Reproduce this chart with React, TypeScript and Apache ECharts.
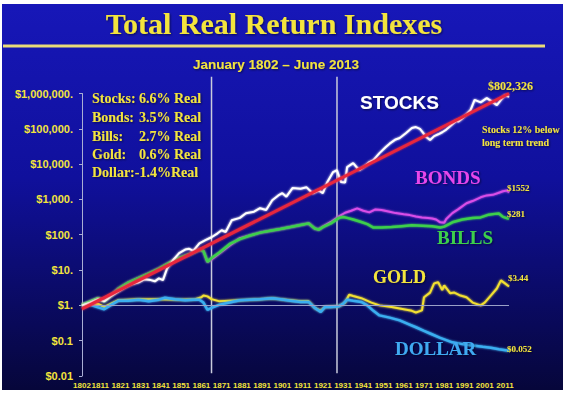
import React, { useEffect, useRef } from "react";
import * as echarts from "echarts";

// ---------- data ----------
const X_LABELS = [1802, 1811, 1821, 1831, 1841, 1851, 1861, 1871, 1881, 1891, 1901, 1911, 1921, 1931, 1941, 1951, 1961, 1971, 1981, 1991, 2001, 2011];
const Y_LABELS = ["$0.01", "$0.1", "$1.", "$10.", "$100.", "$1,000.", "$10,000.", "$100,000.", "$1,000,000."];

const STOCK_YEARS = [1802, 1806, 1810, 1813, 1816, 1820, 1823, 1826, 1830, 1833, 1836, 1838, 1840, 1842, 1844, 1847, 1850, 1853, 1855, 1857, 1860, 1863, 1866, 1869, 1871, 1873, 1876, 1880, 1883, 1887, 1890, 1893, 1896, 1899, 1901, 1903, 1906, 1910, 1913, 1916, 1919, 1921, 1923, 1926, 1928, 1930, 1932, 1933, 1936, 1939, 1942, 1944, 1946, 1949, 1952, 1954, 1957, 1959, 1962, 1965, 1967, 1969, 1970, 1972, 1974, 1976, 1978, 1980, 1982, 1985, 1987, 1988, 1990, 1992, 1994, 1996, 1999, 2002, 2005, 2007, 2009, 2011, 2013];
const STOCK_VALUES = [1, 1.2, 1.5, 1.3, 1.8, 2.5, 3.2, 3.9, 4.5, 5.5, 5.2, 4.8, 5.8, 5.2, 11, 19, 30, 38, 40, 35, 57, 70, 85, 110, 134, 120, 258, 300, 407, 450, 565, 500, 950, 1300, 1500, 1200, 2100, 2000, 2200, 1500, 1800, 1500, 2900, 5900, 6700, 3100, 3000, 8200, 10700, 6700, 9000, 11400, 13000, 20500, 30000, 38000, 50000, 55000, 75000, 105000, 112000, 100000, 85000, 60000, 48000, 62000, 70000, 80000, 95000, 135000, 170000, 160000, 200000, 260000, 340000, 660000, 560000, 740000, 570000, 470000, 660000, 900000, 802326];

const TREND_YEARS = [1802, 2013];
const TREND_VALUES = [0.8, 1000000];

const BOND_YEARS = [1802, 1806, 1810, 1813, 1816, 1820, 1825, 1830, 1835, 1840, 1845, 1850, 1855, 1860, 1862, 1864, 1866, 1870, 1875, 1880, 1885, 1890, 1895, 1900, 1905, 1910, 1914, 1917, 1919, 1921, 1925, 1929, 1932, 1935, 1938, 1941, 1944, 1947, 1950, 1954, 1957, 1961, 1964, 1967, 1970, 1973, 1975, 1977, 1979, 1981, 1982, 1985, 1988, 1992, 1995, 1999, 2002, 2005, 2008, 2010, 2012, 2013];
const BOND_VALUES = [1, 1.3, 1.6, 1.3, 1.8, 3, 4.5, 6, 8, 11, 16, 22, 28, 38, 35, 17, 20, 30, 50, 80, 95, 115, 130, 145, 165, 190, 210, 150, 140, 170, 230, 330, 420, 480, 560, 480, 430, 520, 500, 450, 410, 380, 360, 330, 310, 300, 290, 270, 225, 220, 280, 410, 530, 780, 900, 1150, 1300, 1350, 1550, 1700, 1800, 1552];

const BILL_YEARS = [1802, 1806, 1810, 1813, 1816, 1820, 1825, 1830, 1835, 1840, 1845, 1850, 1855, 1860, 1862, 1864, 1866, 1870, 1875, 1880, 1885, 1890, 1895, 1900, 1905, 1910, 1914, 1917, 1919, 1921, 1925, 1929, 1931, 1933, 1936, 1940, 1943, 1946, 1950, 1955, 1960, 1965, 1970, 1975, 1979, 1981, 1985, 1990, 1995, 1999, 2003, 2006, 2008, 2010, 2013];
const BILL_VALUES = [1, 1.3, 1.6, 1.3, 1.8, 3, 4.5, 6, 8, 11, 16, 22, 28, 38, 35, 17, 22, 32, 55, 75, 95, 115, 130, 145, 165, 190, 210, 150, 140, 165, 210, 300, 320, 300, 270, 230, 200, 160, 160, 165, 175, 185, 180, 175, 160, 170, 225, 270, 300, 310, 370, 390, 400, 320, 281];

const GOLD_YEARS = [1802, 1810, 1813, 1820, 1830, 1840, 1850, 1858, 1861, 1862, 1864, 1866, 1870, 1880, 1890, 1896, 1900, 1910, 1914, 1917, 1920, 1922, 1929, 1932, 1934, 1936, 1940, 1945, 1949, 1955, 1959, 1965, 1967, 1970, 1971, 1974, 1976, 1978, 1980, 1981, 1984, 1986, 1989, 1992, 1995, 1999, 2001, 2004, 2007, 2009, 2011, 2013];
const GOLD_VALUES = [1.1, 1.1, 0.9, 1.4, 1.5, 1.5, 1.45, 1.5, 1.7, 1.9, 1.8, 1.5, 1.3, 1.4, 1.5, 1.6, 1.5, 1.3, 1.3, 0.85, 0.7, 0.9, 0.95, 1.2, 2.0, 1.85, 1.6, 1.2, 1.0, 0.9, 0.82, 0.7, 0.63, 0.72, 1.7, 2.3, 4.2, 4.5, 2.7, 3.7, 2.2, 2.3, 1.9, 1.7, 1.2, 1.0, 1.2, 1.9, 3.0, 5.1, 4.2, 3.44];

const DOLLAR_YEARS = [1802, 1805, 1808, 1813, 1816, 1820, 1825, 1830, 1835, 1840, 1843, 1848, 1853, 1857, 1860, 1862, 1864, 1866, 1870, 1875, 1880, 1885, 1890, 1896, 1900, 1905, 1910, 1914, 1917, 1920, 1922, 1925, 1929, 1931, 1933, 1936, 1940, 1943, 1946, 1949, 1954, 1959, 1963, 1967, 1971, 1974, 1979, 1985, 1990, 1995, 2000, 2004, 2008, 2013];
const DOLLAR_VALUES = [1.0, 1.1, 0.95, 0.78, 1.0, 1.35, 1.35, 1.45, 1.3, 1.45, 1.65, 1.5, 1.4, 1.45, 1.45, 1.2, 0.75, 0.85, 1.05, 1.2, 1.4, 1.45, 1.5, 1.6, 1.5, 1.35, 1.25, 1.25, 0.85, 0.65, 0.9, 0.9, 0.95, 1.1, 1.45, 1.35, 1.25, 1.0, 0.7, 0.52, 0.45, 0.375, 0.3, 0.24, 0.19, 0.16, 0.12, 0.09, 0.08, 0.073, 0.067, 0.063, 0.057, 0.052];

const VLINE_YEARS = [1866, 1928];
const VLINE_TOP = 3000000;
const VLINE_BOTTOM = 0.012;

const LEGEND_LABELS = ["Stocks:", "Bonds:", "Bills:", "Gold:"];
const LEGEND_VALUES = ["6.6% Real", "3.5% Real", "2.7% Real", "0.6% Real"];
const LEGEND_LAST = "Dollar:-1.4%Real";

// ---------- styles ----------
const YELLOW = "#f3e43c";
const SERIF = '"Liberation Serif", "Times New Roman", serif';
const SANS = '"Liberation Sans", Arial, sans-serif';

const zip = (xs: number[], ys: number[]) => xs.map((x, i) => [x, ys[i]]);

function txt(id: string, text: string, x: number, y: number, font: string, fill: string, align = "left") {
  return {
    type: "text",
    id,
    x,
    y,
    z: 100,
    silent: true,
    style: {
      text,
      fill,
      font,
      align,
      verticalAlign: "middle",
      textShadowColor: "rgba(0,0,0,0.55)",
      textShadowBlur: 2,
      textShadowOffsetX: 1,
      textShadowOffsetY: 1,
    },
  };
}

function baseGraphic() {
  const g: any[] = [
    {
      type: "rect",
      id: "bg",
      z: -10,
      silent: true,
      shape: { x: 2, y: 4, width: 561, height: 386 },
      style: {
        fill: new echarts.graphic.LinearGradient(0, 0, 0, 1, [
          { offset: 0, color: "#1717b8" },
          { offset: 0.45, color: "#10109c" },
          { offset: 1, color: "#06063a" },
        ]),
      },
    },
    {
      type: "line",
      id: "titleline",
      z: 1,
      silent: true,
      shape: { x1: 3, y1: 46, x2: 545, y2: 46 },
      style: { stroke: "#eadc78", lineWidth: 3 },
    },
    txt("title", "Total Real Return Indexes", 274, 23, `bold 30px ${SERIF}`, YELLOW, "center"),
    txt("subtitle", "January 1802 – June 2013", 276, 64, `bold 13.5px ${SANS}`, YELLOW, "center"),
    txt("stocksLbl", "STOCKS", 360, 102, `bold 19px ${SANS}`, "#ffffff"),
    txt("stocksVal", "$802,326", 488, 86, `bold 12px ${SERIF}`, YELLOW),
    txt("note1", "Stocks 12% below", 482, 129, `bold 10px ${SERIF}`, YELLOW),
    txt("note2", "long term trend", 482, 142, `bold 10px ${SERIF}`, YELLOW),
    txt("bondsLbl", "BONDS", 415, 177, `bold 19px ${SERIF}`, "#e646ea"),
    txt("bondsVal", "$1552", 507, 188, `bold 9px ${SERIF}`, YELLOW),
    txt("billsVal", "$281", 507, 214, `bold 9px ${SERIF}`, YELLOW),
    txt("billsLbl", "BILLS", 437, 237, `bold 19px ${SERIF}`, "#3ccf4c"),
    txt("goldLbl", "GOLD", 373, 277, `bold 18px ${SERIF}`, YELLOW),
    txt("goldVal", "$3.44", 508, 278, `bold 9px ${SERIF}`, YELLOW),
    txt("dollarLbl", "DOLLAR", 395, 348, `bold 19px ${SERIF}`, "#3faaf2"),
    txt("dollarVal", "$0.052", 507, 349, `bold 9px ${SERIF}`, YELLOW),
  ];
  const ys = [98, 117, 136, 154];
  LEGEND_LABELS.forEach((l, i) => {
    g.push(txt("lg" + i, l, 92, ys[i], `bold 14px ${SERIF}`, YELLOW));
    g.push(txt("lv" + i, LEGEND_VALUES[i], 139, ys[i], `bold 14px ${SERIF}`, YELLOW));
  });
  g.push(txt("lg4", LEGEND_LAST, 92, 172, `bold 14px ${SERIF}`, YELLOW));
  return g;
}

function lineSeries(name: string, data: number[][], color: string, width: number, z = 2) {
  return {
    type: "line",
    name,
    data,
    z,
    showSymbol: false,
    symbol: "none",
    silent: true,
    lineStyle: { color, width, shadowColor: color, shadowBlur: 2 },
  };
}

function buildOption(): any {
  return {
    animation: false,
    backgroundColor: "#ffffff",
    grid: { left: 82, right: 60, top: 93.5, bottom: 20 },
    xAxis: {
      type: "value",
      min: 1802,
      max: 2013,
      splitLine: { show: false },
      axisLine: { show: false },
      axisTick: { show: false },
      axisLabel: {
        customValues: X_LABELS,
        formatter: (v: number) => String(v),
        color: YELLOW,
        fontFamily: SANS,
        fontWeight: "bold",
        fontSize: 8,
        margin: 5,
      },
    },
    yAxis: {
      type: "log",
      logBase: 10,
      min: 0.01,
      max: 1000000,
      splitLine: { show: false },
      axisLine: { show: true, lineStyle: { color: "#a9aed4", width: 1 } },
      axisTick: { show: true, length: 3, lineStyle: { color: "#a9aed4" } },
      axisLabel: {
        formatter: (v: number) => Y_LABELS[Math.round(Math.log10(v)) + 2] || "",
        color: YELLOW,
        fontFamily: SANS,
        fontWeight: "bold",
        fontSize: 11,
        margin: 9,
      },
    },
    series: [
      {
        ...lineSeries("Gold", zip(GOLD_YEARS, GOLD_VALUES), "#f2e030", 2, 2),
        markLine: {
          silent: true,
          symbol: "none",
          label: { show: false },
          lineStyle: { color: "#9aa0c8", width: 1, type: "solid" },
          data: [{ yAxis: 1 }],
        },
      },
      lineSeries("Dollar", zip(DOLLAR_YEARS, DOLLAR_VALUES), "#3aaef0", 2.5, 3),
      lineSeries("Bonds", zip(BOND_YEARS, BOND_VALUES), "#d94ee8", 2, 4),
      lineSeries("Bills", zip(BILL_YEARS, BILL_VALUES), "#3ccf4c", 2.5, 5),
      lineSeries("Stocks", zip(STOCK_YEARS, STOCK_VALUES), "#ffffff", 2, 6),
      lineSeries("Trend", zip(TREND_YEARS, TREND_VALUES), "#e8283c", 3, 7),
    ],
    graphic: baseGraphic(),
  };
}

export default function App() {
  const ref = useRef<HTMLDivElement>(null);
  useEffect(() => {
    const el = ref.current;
    if (!el) return;
    const chart = echarts.init(el, null, { renderer: "svg" });
    chart.setOption(buildOption());
    const vlines = VLINE_YEARS.map((yr, i) => {
      const a = chart.convertToPixel({ gridIndex: 0 }, [yr, VLINE_TOP]) as number[];
      const b = chart.convertToPixel({ gridIndex: 0 }, [yr, VLINE_BOTTOM]) as number[];
      return {
        type: "line",
        id: "vl" + i,
        z: 1,
        silent: true,
        shape: { x1: a[0], y1: a[1], x2: b[0], y2: b[1] },
        style: { stroke: "#c9cbdc", lineWidth: 1.5 },
      };
    });
    chart.setOption({ graphic: [...baseGraphic(), ...vlines] });
    return () => chart.dispose();
  }, []);
  return (
    <div
      ref={ref}
      style={{ position: "absolute", left: 0, top: 0, width: 569, height: 396, background: "#ffffff" }}
    />
  );
}
